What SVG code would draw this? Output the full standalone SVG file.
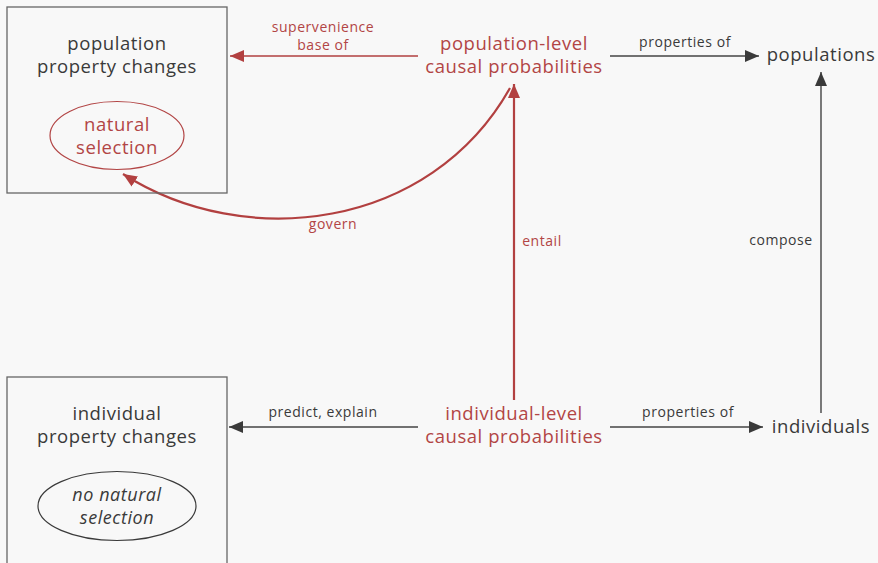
<svg xmlns="http://www.w3.org/2000/svg" width="878" height="563" viewBox="0 0 878 563">
<style>
text{font-family:"Open Sans","Noto Sans","Liberation Sans",sans-serif;text-anchor:middle}
.big{font-size:18.5px;letter-spacing:0.55px}
.sm{font-size:14px;letter-spacing:0.55px}
.it{font-style:italic;font-size:18px}
.dark{fill:#3a3a3a}
.red{fill:#b24545}
.box{fill:none;stroke:#666;stroke-width:1.3}
.lnk{fill:none;stroke-width:1.4}
.gl{stroke:#444}
.rl{stroke:#b24040}
.rb{stroke-width:2.2}
</style>
<defs>
<marker id="ag" markerUnits="userSpaceOnUse" viewBox="0 0 14 12" refX="14" refY="6" markerWidth="14" markerHeight="12" orient="auto"><path d="M0,0L14,6L0,12z" fill="#3a3a3a"/></marker>
<marker id="ar" markerUnits="userSpaceOnUse" viewBox="0 0 14 12" refX="14" refY="6" markerWidth="14" markerHeight="12" orient="auto"><path d="M0,0L14,6L0,12z" fill="#b24040"/></marker>
</defs>
<rect width="878" height="563" fill="#f8f8f8"/>
<g id="connectors">
<path class="lnk rl" d="M418,56H230" marker-end="url(#ar)"/>
<path class="lnk gl" d="M610,56H759" marker-end="url(#ag)"/>
<path class="lnk gl" d="M821,413V72" marker-end="url(#ag)"/>
<path class="lnk rl rb" d="M514,400V84" marker-end="url(#ar)"/>
<path class="lnk rl rb" d="M510,88C430,230 245,252 123,174" marker-end="url(#ar)"/>
<path class="lnk gl" d="M418,427H229" marker-end="url(#ag)"/>
<path class="lnk gl" d="M610,427H763" marker-end="url(#ag)"/>
<text class="sm red" x="323" y="32">supervenience</text>
<text class="sm red" x="323" y="50">base of</text>
<text class="sm dark" x="685" y="47">properties of</text>
<text class="sm dark" x="781" y="245">compose</text>
<text class="sm red" x="542" y="246">entail</text>
<text class="sm red" x="333" y="229">govern</text>
<text class="sm dark" x="323" y="417">predict, explain</text>
<text class="sm dark" x="688" y="417">properties of</text>
</g>
<g id="pop-changes">
<rect class="box" x="7" y="7" width="220" height="186"/>
<text class="big dark" x="117" y="50">population</text>
<text class="big dark" x="117" y="73">property changes</text>
</g>
<g id="natural-selection">
<ellipse cx="117" cy="135.5" rx="67" ry="34" fill="none" stroke="#b24545" stroke-width="1.2"/>
<text class="big red" x="117" y="131">natural</text>
<text class="big red" x="117" y="154">selection</text>
</g>
<g id="pop-level">
<text class="big red" x="514" y="50">population-level</text>
<text class="big red" x="514" y="73">causal probabilities</text>
</g>
<g id="populations">
<text class="big dark" x="821" y="61">populations</text>
</g>
<g id="ind-changes">
<rect class="box" x="7" y="377" width="220" height="200"/>
<text class="big dark" x="117" y="420">individual</text>
<text class="big dark" x="117" y="443">property changes</text>
</g>
<g id="no-natural-selection">
<ellipse cx="117" cy="506" rx="79" ry="34.5" fill="none" stroke="#3a3a3a" stroke-width="1.2"/>
<text class="big dark it" x="117" y="501">no natural</text>
<text class="big dark it" x="117" y="524">selection</text>
</g>
<g id="ind-level">
<text class="big red" x="514" y="420">individual-level</text>
<text class="big red" x="514" y="443">causal probabilities</text>
</g>
<g id="individuals">
<text class="big dark" x="821" y="433">individuals</text>
</g>
</svg>
